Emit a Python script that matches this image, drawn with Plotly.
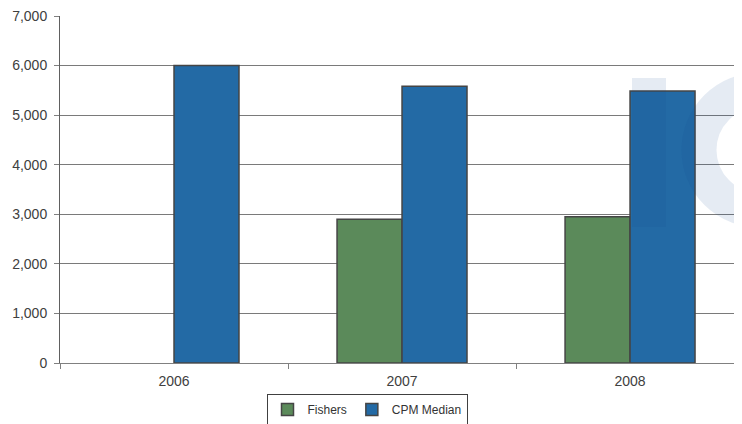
import plotly.graph_objects as go

years = ["2006", "2007", "2008"]
fishers = [None, 2900, 2950]
cpm_median = [6000, 5585, 5485]
y_ticks = [0, 1000, 2000, 3000, 4000, 5000, 6000, 7000]
y_tick_labels = ["0", "1,000", "2,000", "3,000", "4,000", "5,000", "6,000", "7,000"]

# page has an 8px body margin; size the figure so it fills the 742x424 window
OFF = 8
W, H = 742 - OFF, 424 - OFF
L, T = 60 - OFF, 16 - OFF
B = H - (363 - OFF)
R = 0
pw = W - L - R
ph = H - T - B

def px(x):  # page pixel -> paper
    return (x - OFF - L) / pw

def py(y):
    return (H - B - (y - OFF)) / ph

fig = go.Figure()
fig.add_trace(go.Bar(
    name="Fishers", x=years, y=fishers,
    marker=dict(color="#5B8A5A", line=dict(color="#454545", width=1.5)),
))
fig.add_trace(go.Bar(
    name="CPM Median", x=years, y=cpm_median,
    marker=dict(color="#236AA5", line=dict(color="#454545", width=1.5)),
))

# faint watermark logo
wm = "rgba(20,70,150,0.11)"
fig.add_shape(type="rect", xref="paper", yref="paper",
              x0=px(632), x1=px(666), y0=py(227), y1=py(78),
              fillcolor=wm, line=dict(width=0), layer="above")
fig.add_shape(type="circle", xref="paper", yref="paper",
              x0=px(759 - 60), x1=px(759 + 60), y0=py(150 + 60), y1=py(150 - 60),
              fillcolor="rgba(0,0,0,0)", line=dict(color=wm, width=35), layer="above")

fig.update_layout(
    width=W, height=H,
    margin=dict(l=L, r=R, t=T, b=B, pad=0, autoexpand=False),
    paper_bgcolor="white", plot_bgcolor="white",
    barmode="group", bargap=0.43, bargroupgap=0,
    font=dict(family="Liberation Sans, Arial, sans-serif", size=14, color="#404040"),
    showlegend=True,
    legend=dict(
        orientation="h", x=px(367), xanchor="center", y=py(394), yanchor="top",
        bordercolor="#404040", borderwidth=1, bgcolor="white",
        font=dict(size=12, color="#333333"), itemwidth=30,
        tracegroupgap=0,
    ),
    xaxis=dict(
        type="category", range=[-0.5, 2.491],
        showline=True, linecolor="#808080", linewidth=1,
        ticks="outside", ticklen=5, tickcolor="#808080", tickson="boundaries",
        showgrid=False, tickfont=dict(size=14, color="#404040"),
        ticklabelstandoff=5,
    ),
    yaxis=dict(
        range=[0, 7000.5], tickvals=y_ticks, ticktext=y_tick_labels,
        showline=True, linecolor="#606060", linewidth=1,
        ticks="outside", ticklen=5, tickcolor="#808080",
        showgrid=True, gridcolor="#7a7a7a", gridwidth=1,
        zeroline=False, tickfont=dict(size=14, color="#404040"),
        ticklabelstandoff=4, ticklabeloverflow="allow",
    ),
)

fig.write_html("out.html")
